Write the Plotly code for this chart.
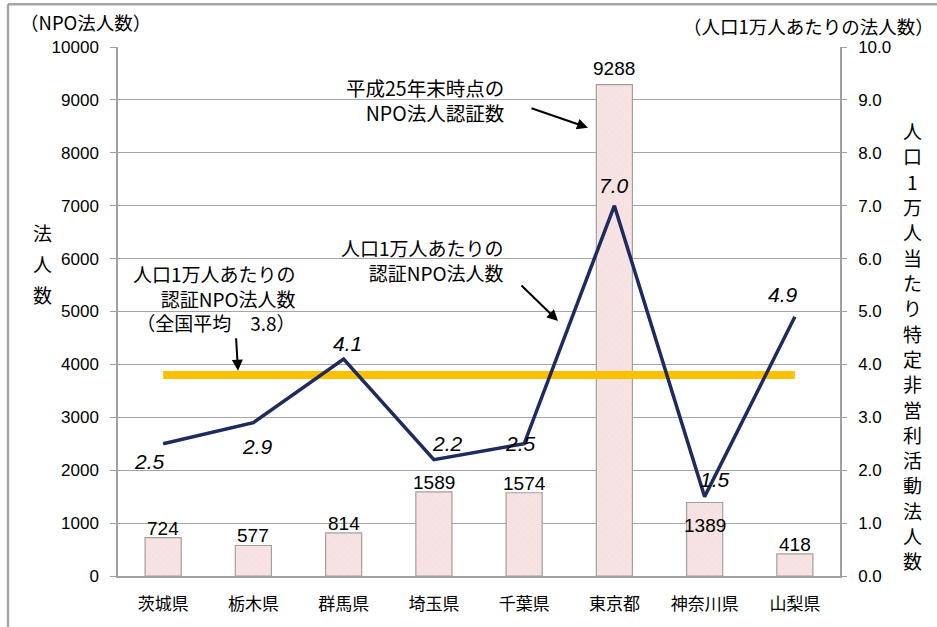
import plotly.graph_objects as go

prefectures = ["茨城県", "栃木県", "群馬県", "埼玉県", "千葉県", "東京都", "神奈川県", "山梨県"]
npo_counts = [724, 577, 814, 1589, 1574, 9288, 1389, 418]
per_10k = [2.5, 2.9, 4.1, 2.2, 2.5, 7.0, 1.5, 4.9]
national_avg = 3.8
left_ticks = list(range(0, 10001, 1000))
left_ticktext = [str(v) for v in left_ticks]
right_ticks = [i * 1.0 for i in range(0, 11)]

FONT = "Liberation Sans, Arial, Noto Sans CJK JP"
JP = "Noto Sans CJK JP, Liberation Sans"

fig = go.Figure()
fig.add_trace(go.Bar(
    x=prefectures, y=npo_counts, width=0.4,
    marker=dict(color="#F7E3E3", line=dict(color="#A0A0A0", width=1.2),
                pattern=dict(shape="x", fgcolor="#EFCACA", size=5, solidity=0.15)),
    yaxis="y", showlegend=False, hoverinfo="skip"))
fig.add_trace(go.Scatter(
    x=[prefectures[0], prefectures[-1]], y=[national_avg, national_avg],
    mode="lines", line=dict(color="#FFC000", width=8), yaxis="y2", showlegend=False,
    hoverinfo="skip"))
fig.add_trace(go.Scatter(
    x=prefectures, y=per_10k, mode="lines",
    line=dict(color="#1F2A5E", width=3.5), yaxis="y2", showlegend=False))

ann = []
# bar value labels
for p, v in zip(prefectures, npo_counts):
    if p == "神奈川県":
        ann.append(dict(x=p, y=v, xref="x", yref="y", text=str(v), showarrow=False,
                        yanchor="top", yshift=-10, font=dict(size=19, color="#000", family=FONT)))
    else:
        ann.append(dict(x=p, y=v, xref="x", yref="y", text=str(v), showarrow=False,
                        yanchor="bottom", yshift=4 if v > 5000 else -3,
                        font=dict(size=19, color="#000", family=FONT)))
# line value labels (xshift, yshift)
shifts = [(-14, -18), (4, -24), (4, 16), (14, 16), (-4, 0), (0, 20), (10, 17), (-12, 22)]
for p, v, (dx, dy) in zip(prefectures, per_10k, shifts):
    ann.append(dict(x=p, y=v, xref="x", yref="y2", text=f"<i>{v:.1f}</i>", showarrow=False,
                    xshift=dx, yshift=dy, font=dict(size=21, color="#000", family=FONT)))

def px2paper(px, py):
    return (px - 118) / 722, (578 - py) / 531

# text blocks
x, y = px2paper(506, 100)
ann.append(dict(x=x, y=y, xref="paper", yref="paper", xanchor="right", yanchor="middle",
                align="right", showarrow=False, text="平成25年末時点の<br>NPO法人認証数",
                font=dict(size=19.5, color="#000", family=JP)))
x, y = px2paper(506, 261)
ann.append(dict(x=x, y=y, xref="paper", yref="paper", xanchor="right", yanchor="middle",
                align="right", showarrow=False, text="人口1万人あたりの<br>認証NPO法人数",
                font=dict(size=19, color="#000", family=JP)))
x, y = px2paper(298, 299)
ann.append(dict(x=x, y=y, xref="paper", yref="paper", xanchor="right", yanchor="middle",
                align="right", showarrow=False,
                text="人口1万人あたりの<br>認証NPO法人数<br>（全国平均　3.8）",
                font=dict(size=19, color="#000", family=JP)))
# arrows
for (hx, hy, tx, ty) in [(588, 128, 530, 108), (558, 322, 520, 285), (238, 372, 236, 338)]:
    x, y = px2paper(hx, hy)
    ann.append(dict(x=x, y=y, xref="paper", yref="paper", ax=tx - hx, ay=ty - hy,
                    showarrow=True, arrowhead=2, arrowsize=1.1, arrowwidth=2,
                    arrowcolor="#000", text=""))
# corner titles
x, y = px2paper(18, 22)
ann.append(dict(x=x, y=y, xref="paper", yref="paper", xanchor="left", yanchor="middle",
                showarrow=False, text="（NPO法人数）", font=dict(size=18.5, color="#000", family=JP)))
x, y = px2paper(936, 26)
ann.append(dict(x=x, y=y, xref="paper", yref="paper", xanchor="right", yanchor="middle",
                showarrow=False, text="（人口1万人あたりの法人数）",
                font=dict(size=18.5, color="#000", family=JP)))
# left vertical title
for k, ch in enumerate("法人数"):
    x, y = px2paper(42, 233 + 31 * k)
    ann.append(dict(x=x, y=y, xref="paper", yref="paper", xanchor="center", yanchor="middle",
                    showarrow=False, text=ch, font=dict(size=19, color="#000", family=JP)))
# right vertical title
for k, ch in enumerate("人口1万人当たり特定非営利活動法人数"):
    x, y = px2paper(912, 131 + 25.4 * k)
    ann.append(dict(x=x, y=y, xref="paper", yref="paper", xanchor="center", yanchor="middle",
                    showarrow=False, text=ch, font=dict(size=19, color="#000", family=JP)))

shapes = []
x0, y0 = px2paper(8, 640)
x1, y1 = px2paper(940, 4)
shapes.append(dict(type="line", xref="paper", yref="paper", x0=x0, y0=y0, x1=x0, y1=y1,
                   line=dict(color="#A6A6A6", width=2.5)))
shapes.append(dict(type="line", xref="paper", yref="paper", x0=x0, y0=y1, x1=x1, y1=y1,
                   line=dict(color="#A6A6A6", width=2.5)))

fig.update_layout(
    width=937, height=627,
    margin=dict(l=118, r=97, t=47, b=49),
    paper_bgcolor="white", plot_bgcolor="white",
    font=dict(family=FONT, color="#000"),
    bargap=0.6,
    xaxis=dict(type="category", showgrid=False, showline=True, linecolor="#A0A0A0", linewidth=2,
               ticks="", tickfont=dict(size=17, family=JP), ticklabelstandoff=12),
    yaxis=dict(range=[0, 10000], tickvals=left_ticks, ticktext=left_ticktext, showgrid=True,
               gridcolor="#A6A6A6", gridwidth=1.2, showline=True, linecolor="#A0A0A0",
               linewidth=1.5, ticks="outside", ticklen=6, tickcolor="#A0A0A0",
               tickfont=dict(size=17), ticklabelstandoff=8, zeroline=False),
    yaxis2=dict(range=[0, 10], tickvals=right_ticks, tickformat=".1f", overlaying="y",
                side="right", showgrid=False, showline=True, linecolor="#A0A0A0", linewidth=1.5,
                ticks="outside", ticklen=5, tickcolor="#A0A0A0", tickfont=dict(size=17),
                ticklabelstandoff=8, zeroline=False),
    annotations=ann, shapes=shapes,
)

fig.write_html("out.html", config={"displayModeBar": False},
               post_script="document.body.style.margin='0px';document.body.style.overflow='hidden';")
